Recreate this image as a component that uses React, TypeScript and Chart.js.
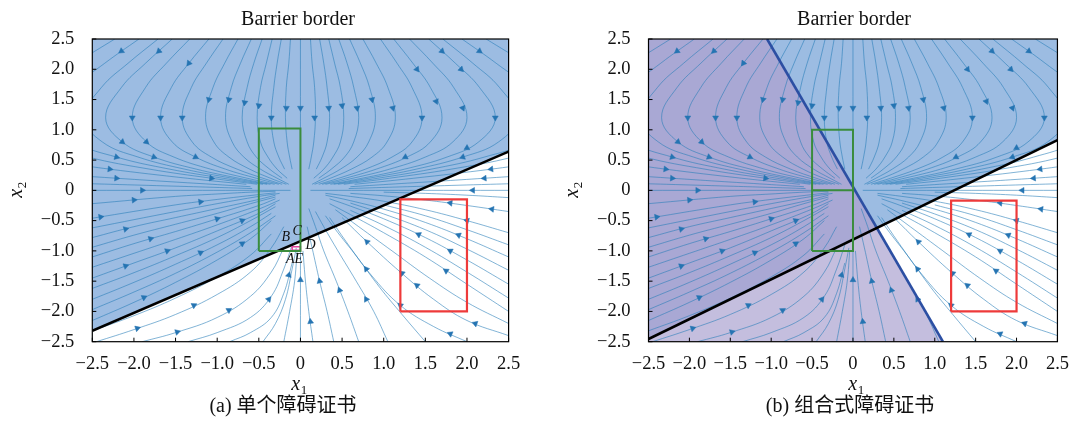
import React, { useEffect, useRef } from 'react';
import { Chart, registerables } from 'chart.js';

Chart.register(...registerables);

type Pt = [number, number];
type Arrow = [number, number, number, number]; // x, y, direction dx, dy

// ---------------- ticks & text ----------------
const TICK_VALUES = [-2.5, -2, -1.5, -1, -0.5, 0, 0.5, 1, 1.5, 2, 2.5];
const TICK_LABELS = ['−2.5', '−2.0', '−1.5', '−1.0', '−0.5', '0', '0.5', '1.0', '1.5', '2.0', '2.5'];
const TITLE_TEXT = 'Barrier border';
const CAPTION_A = '(a) 单个障碍证书';
const CAPTION_B = '(b) 组合式障碍证书';
const POINT_LABELS_A: [string, number, number][] = [
  ['B', -0.175, -0.78],
  ['C', -0.04, -0.68],
  ['D', 0.12, -0.9],
  ['AE', -0.07, -1.14],
];

// ---------------- regions & boundaries ----------------
const REGION_A: Pt[] = [[-2.5, -2.32], [2.5, 0.64], [2.5, 2.5], [-2.5, 2.5]];
const REGION_B_PURPLE: Pt[] = [[-2.5, -2.456], [0.292, -0.621], [-1.05, 2.5], [-2.5, 2.5]];
const REGION_B_BLUE: Pt[] = [[0.292, -0.621], [2.5, 0.83], [2.5, 2.5], [-1.05, 2.5]];
const REGION_B_LAVENDER: Pt[] = [[-2.5, -2.5], [1.1, -2.5], [0.292, -0.621], [-2.5, -2.456]];

const BARRIER_A: Pt[] = [[-2.5, -2.32], [2.5, 0.64]];
const BARRIER_B_BLACK: Pt[] = [[-2.5, -2.456], [2.5, 0.83]];
const BARRIER_B_BLUE: Pt[] = [[-1.05, 2.5], [1.1, -2.5]];
const INIT_BOX_A: Pt[] = [[-0.5, -1], [0, -1], [0, 1.02], [-0.5, 1.02], [-0.5, -1]];
const INIT_BOX_B: Pt[] = [[-0.5, -1], [0, -1], [0, 1], [-0.5, 1], [-0.5, -1]];
const INIT_MID_B: Pt[] = [[-0.5, 0], [0, 0]];
const UNSAFE_BOX_A: Pt[] = [[1.2, -2], [2, -2], [2, -0.15], [1.2, -0.15], [1.2, -2]];
const UNSAFE_BOX_B: Pt[] = [[1.2, -2], [2, -2], [2, -0.17], [1.2, -0.17], [1.2, -2]];
const SMALL_BOX_A: Pt[] = [[-0.1, -0.99], [0, -0.99], [0, -0.93], [-0.1, -0.93], [-0.1, -0.99]];

// ---------------- streamlines ----------------
const STREAMS_UPPER_LEFT: Pt[][] = [
  [[-1.54, 2.5], [-1.86, 2.1], [-2.15, 1.7], [-2.34, 1.2], [-2.14, 0.8], [-1.76, 0.55], [-1.25, 0.35], [-0.74, 0.2], [-0.36, 0.1]],
  [[-1.33, 2.5], [-1.61, 2.1], [-1.86, 1.7], [-2.02, 1.2], [-1.85, 0.8], [-1.52, 0.55], [-1.08, 0.35], [-0.64, 0.2], [-0.31, 0.1]],
  [[-1.1, 2.5], [-1.34, 2.1], [-1.55, 1.7], [-1.68, 1.2], [-1.54, 0.8], [-1.26, 0.55], [-0.9, 0.35], [-0.53, 0.2], [-0.26, 0.1]],
  [[-0.93, 2.5], [-1.13, 2.1], [-1.31, 1.7], [-1.42, 1.2], [-1.3, 0.8], [-1.07, 0.55], [-0.76, 0.35], [-0.45, 0.2], [-0.22, 0.1]],
  [[-0.75, 2.5], [-0.91, 2.1], [-1.05, 1.7], [-1.14, 1.2], [-1.04, 0.8], [-0.86, 0.55], [-0.61, 0.35], [-0.36, 0.2], [-0.17, 0.1]],
  [[-0.59, 2.5], [-0.72, 2.1], [-0.83, 1.7], [-0.9, 1.2], [-0.82, 0.8], [-0.68, 0.55], [-0.48, 0.35], [-0.28, 0.2], [-0.14, 0.1]],
  [[-0.46, 2.5], [-0.56, 2.1], [-0.64, 1.7], [-0.7, 1.2], [-0.64, 0.8], [-0.53, 0.55], [-0.37, 0.35], [-0.22, 0.2]],
  [[-0.34, 2.5], [-0.41, 2.1], [-0.48, 1.7], [-0.52, 1.2], [-0.48, 0.8], [-0.39, 0.55], [-0.28, 0.35], [-0.16, 0.2]],
  [[-0.23, 2.5], [-0.28, 2.1], [-0.32, 1.7], [-0.35, 1.2], [-0.32, 0.8], [-0.26, 0.55], [-0.19, 0.35]],
  [[-0.12, 2.5], [-0.14, 2.1], [-0.17, 1.7], [-0.18, 1.2], [-0.16, 0.8], [-0.13, 0.55], [-0.1, 0.35]],
  [[-1.71, 2.5], [-2.07, 2.1], [-2.39, 1.7], [-2.6, 1.2], [-2.38, 0.8], [-1.95, 0.55], [-1.39, 0.35], [-0.82, 0.2], [-0.4, 0.1]],
  [[-1.94, 2.5], [-2.35, 2.1], [-2.71, 1.7], [-2.95, 1.2], [-2.7, 0.8], [-2.21, 0.55], [-1.57, 0.35], [-0.93, 0.2], [-0.45, 0.1]],
  [[-2.23, 2.5], [-2.7, 2.1], [-3.13, 1.7], [-3.4, 1.2], [-3.11, 0.8], [-2.55, 0.55], [-1.81, 0.35], [-1.07, 0.2], [-0.52, 0.1]],
  [[-3.23, 0.55], [-2.8, 0.45], [-2.29, 0.35], [-1.36, 0.2], [-0.65, 0.1]],
  [[-3.73, 0.35], [-2.75, 0.25], [-2.21, 0.2], [-1.65, 0.15], [-1.06, 0.1], [-0.6, 0.06]],
  [[-3.53, 0.15], [-2.79, 0.12], [-2.28, 0.1], [-1.53, 0.07], [-1.04, 0.05], [-0.58, 0.03]],
];

const STREAMS_UPPER_RIGHT: Pt[][] = [
  [[0.12, 2.5], [0.14, 2.1], [0.17, 1.7], [0.18, 1.2], [0.16, 0.8], [0.13, 0.55], [0.1, 0.35]],
  [[0.23, 2.5], [0.28, 2.1], [0.32, 1.7], [0.35, 1.2], [0.32, 0.8], [0.26, 0.55], [0.19, 0.35]],
  [[0.34, 2.5], [0.41, 2.1], [0.48, 1.7], [0.52, 1.2], [0.48, 0.8], [0.39, 0.55], [0.28, 0.35], [0.16, 0.2]],
  [[0.46, 2.5], [0.56, 2.1], [0.64, 1.7], [0.7, 1.2], [0.64, 0.8], [0.53, 0.55], [0.37, 0.35], [0.22, 0.2]],
  [[0.59, 2.5], [0.72, 2.1], [0.83, 1.7], [0.9, 1.2], [0.82, 0.8], [0.68, 0.55], [0.48, 0.35], [0.28, 0.2], [0.14, 0.1]],
  [[0.75, 2.5], [0.91, 2.1], [1.05, 1.7], [1.14, 1.2], [1.04, 0.8], [0.86, 0.55], [0.61, 0.35], [0.36, 0.2], [0.17, 0.1]],
  [[0.96, 2.5], [1.16, 2.1], [1.34, 1.7], [1.46, 1.2], [1.34, 0.8], [1.1, 0.55], [0.78, 0.35], [0.46, 0.2], [0.22, 0.1]],
  [[1.12, 2.5], [1.35, 2.1], [1.56, 1.7], [1.7, 1.2], [1.56, 0.8], [1.28, 0.55], [0.91, 0.35], [0.54, 0.2], [0.26, 0.1]],
  [[1.31, 2.5], [1.59, 2.1], [1.84, 1.7], [2.0, 1.2], [1.83, 0.8], [1.5, 0.55], [1.07, 0.35], [0.63, 0.2], [0.3, 0.1]],
  [[1.54, 2.5], [1.86, 2.1], [2.15, 1.7], [2.34, 1.2], [2.14, 0.8], [1.76, 0.55], [1.25, 0.35], [0.74, 0.2], [0.36, 0.1]],
  [[1.71, 2.5], [2.07, 2.1], [2.39, 1.7], [2.6, 1.2], [2.38, 0.8], [1.95, 0.55], [1.39, 0.35], [0.82, 0.2], [0.4, 0.1]],
  [[1.94, 2.5], [2.35, 2.1], [2.71, 1.7], [2.95, 1.2], [2.7, 0.8], [2.21, 0.55], [1.57, 0.35], [0.93, 0.2], [0.45, 0.1]],
  [[2.23, 2.5], [2.7, 2.1], [3.13, 1.7], [3.4, 1.2], [3.11, 0.8], [2.55, 0.55], [1.81, 0.35], [1.07, 0.2], [0.52, 0.1]],
  [[3.23, 0.55], [2.8, 0.45], [2.29, 0.35], [1.36, 0.2], [0.65, 0.1]],
  [[3.73, 0.35], [2.75, 0.25], [2.21, 0.2], [1.65, 0.15], [1.06, 0.1], [0.6, 0.06]],
  [[3.53, 0.15], [2.79, 0.12], [2.28, 0.1], [1.53, 0.07], [1.04, 0.05], [0.58, 0.03]],
];

const STREAMS_LOWER_LEFT: Pt[][] = [
  [[-2.5, -0.22], [-1.5, -0.1], [-1.0, -0.06], [-0.6, -0.03], [-0.3, -0.015]],
  [[-2.5, -0.46], [-1.5, -0.24], [-1.0, -0.15], [-0.5, -0.07], [-0.3, -0.04]],
  [[-2.5, -0.62], [-1.5, -0.35], [-1.0, -0.22], [-0.5, -0.1], [-0.25, -0.05]],
  [[-2.5, -0.78], [-2.0, -0.6], [-1.5, -0.45], [-1.0, -0.3], [-0.5, -0.15], [-0.3, -0.08]],
  [[-2.5, -0.94], [-2.0, -0.74], [-1.5, -0.56], [-1.0, -0.38], [-0.6, -0.22], [-0.3, -0.11]],
  [[-2.5, -1.1], [-2.0, -0.88], [-1.5, -0.68], [-1.0, -0.47], [-0.5, -0.25], [-0.3, -0.14]],
  [[-2.5, -1.27], [-2.0, -1.04], [-1.5, -0.81], [-1.0, -0.57], [-0.5, -0.31], [-0.25, -0.16]],
  [[-2.5, -1.45], [-2.0, -1.2], [-1.5, -0.95], [-1.0, -0.67], [-0.5, -0.38], [-0.3, -0.22]],
  [[-2.5, -1.62], [-2.0, -1.36], [-1.5, -1.08], [-1.0, -0.78], [-0.6, -0.5], [-0.3, -0.27]],
  [[-2.5, -1.8], [-2.0, -1.52], [-1.5, -1.22], [-1.0, -0.9], [-0.6, -0.6], [-0.35, -0.38]],
  [[-2.5, -1.97], [-2.0, -1.68], [-1.5, -1.37], [-1.0, -1.02], [-0.6, -0.7], [-0.3, -0.42]],
  [[-2.5, -2.15], [-2.0, -1.85], [-1.5, -1.52], [-1.0, -1.15], [-0.6, -0.8], [-0.35, -0.5]],
  [[-2.5, -2.32], [-2.0, -2.07], [-1.5, -1.78], [-1.0, -1.43], [-0.6, -1.07], [-0.35, -0.72]],
  [[-2.45, -2.5], [-2.0, -2.3], [-1.5, -2.05], [-1.0, -1.72], [-0.6, -1.35], [-0.35, -0.95], [-0.2, -0.6]],
  [[-1.9, -2.5], [-1.5, -2.35], [-1.0, -2.1], [-0.6, -1.75], [-0.35, -1.35], [-0.2, -0.95]],
  [[-1.35, -2.5], [-1.0, -2.35], [-0.6, -2.1], [-0.35, -1.75], [-0.2, -1.3], [-0.1, -0.9]],
  [[-0.85, -2.5], [-0.6, -2.35], [-0.35, -2.1], [-0.2, -1.7], [-0.1, -1.2]],
  [[-0.45, -2.5], [-0.3, -2.2], [-0.18, -1.8], [-0.1, -1.3], [-0.05, -0.95]],
  [[-0.2, -2.5], [-0.13, -2.0], [-0.07, -1.5], [-0.04, -1.0]],
];

const STREAMS_LOWER_RIGHT: Pt[][] = [
  [[0.15, -2.5], [0.1, -2.0], [0.06, -1.5], [0.03, -1.0]],
  [[0.4, -2.5], [0.32, -2.0], [0.23, -1.5], [0.14, -0.95], [0.08, -0.6]],
  [[0.7, -2.5], [0.57, -2.0], [0.43, -1.5], [0.28, -1.0], [0.18, -0.6], [0.1, -0.3]],
  [[1.05, -2.5], [0.88, -2.0], [0.67, -1.5], [0.45, -1.0], [0.28, -0.6], [0.18, -0.35]],
  [[1.5, -2.5], [1.22, -2.05], [0.95, -1.6], [0.68, -1.1], [0.45, -0.7], [0.3, -0.42]],
  [[2.0, -2.5], [1.6, -2.25], [1.2, -1.9], [0.85, -1.4], [0.55, -0.85], [0.35, -0.45]],
  [[2.5, -2.4], [2.0, -2.15], [1.6, -1.8], [1.2, -1.35], [0.8, -0.85], [0.5, -0.45]],
  [[2.5, -2.2], [2.0, -1.85], [1.55, -1.45], [1.1, -1.0], [0.7, -0.6], [0.42, -0.32]],
  [[2.5, -2.0], [2.0, -1.55], [1.5, -1.1], [1.0, -0.7], [0.6, -0.4], [0.35, -0.22]],
  [[2.5, -1.78], [2.0, -1.35], [1.5, -0.94], [1.0, -0.58], [0.6, -0.33]],
  [[2.5, -1.55], [2.0, -1.15], [1.5, -0.78], [1.0, -0.47], [0.6, -0.26], [0.35, -0.14]],
  [[2.5, -1.32], [2.0, -0.97], [1.5, -0.65], [1.0, -0.39], [0.6, -0.21]],
  [[2.5, -1.1], [2.0, -0.8], [1.5, -0.53], [1.0, -0.31], [0.6, -0.17], [0.3, -0.08]],
  [[2.5, -0.9], [2.0, -0.65], [1.5, -0.42], [1.0, -0.24]],
  [[2.5, -0.7], [2.0, -0.5], [1.5, -0.32], [1.0, -0.18], [0.6, -0.1], [0.3, -0.05]],
  [[2.5, -0.35], [2.0, -0.25], [1.5, -0.16], [1.0, -0.09], [0.6, -0.05]],
  [[2.5, -0.12], [2.0, -0.08], [1.5, -0.05], [1.0, -0.03]],
];

const STREAMS_AXES: Pt[][] = [
  [[-2.5, 0], [-0.12, 0]],
  [[2.5, 0], [0.12, 0]],
  [[0, 2.5], [0, 0.04]],
  [[0, -2.5], [0, -0.9]],
];

const ARROWS_UPPER: Arrow[] = [
  [-2.02, 1.2, 0, -1], [-1.68, 1.2, 0, -1], [-1.42, 1.2, 0, -1], [-1.1, 1.5, -0.18, -1],
  [-0.86, 1.5, -0.14, -1], [-0.67, 1.45, -0.12, -1], [-0.5, 1.4, -0.08, -1], [-0.35, 1.2, 0, -1],
  [-0.17, 1.36, -0.02, -1], [0, 1.36, 0, -1], [-1.7, 2.3, -0.8, -1], [-2.15, 2.3, -1, -1],
  [-1.34, 2.1, -0.55, -1], [-2.14, 0.8, 0.9, -1], [-1.85, 0.8, 0.8, -1], [-1.76, 0.55, 1, -0.5],
  [-1.26, 0.55, 1, -0.7], [-2.21, 0.55, 1, -0.4], [-2.29, 0.35, 1, -0.17], [-2.21, 0.2, 1, -0.09],
  [-1.07, 0.2, 1, -0.19], [-1.9, 0, 1, 0],
  [0.17, 1.2, 0, -1], [0.34, 1.36, 0.05, -1], [0.5, 1.4, 0.08, -1], [0.68, 1.36, 0.1, -1],
  [0.86, 1.5, 0.14, -1], [1.11, 1.36, 0.18, -1], [1.46, 1.2, 0, -1], [1.95, 1.36, 0.3, -1],
  [2.34, 1.2, 0, -1], [1.7, 2.3, 0.8, -1], [1.4, 2.0, 0.55, -1], [1.93, 2.0, 0.75, -1],
  [2.15, 2.3, 1, -1], [1.63, 1.47, 0.3, -1], [2.0, 0.7, -1, -0.75], [1.95, 0.55, -1, -0.5],
  [1.26, 0.55, -1, -0.7], [2.29, 0.35, -1, -0.17], [2.21, 0.2, -1, -0.09], [2.07, 0, -1, 0],
];

const ARROWS_LOWER: Arrow[] = [
  [-2.0, -0.16, 1, 0.12], [-2.4, -0.44, 1, 0.22], [-1.2, -0.19, 1, 0.18], [-2.1, -0.64, 1, 0.33],
  [-1.8, -0.8, 1, 0.42], [-1.0, -0.47, 1, 0.44], [-2.1, -1.25, 1, 0.5], [-1.6, -1.0, 1, 0.52],
  [-0.7, -0.5, 1, 0.6], [-1.2, -1.03, 1, 0.65], [-1.88, -1.77, 1, 0.66], [-0.7, -0.88, 1, 0.9],
  [-1.96, -2.28, 1, 0.45], [-1.28, -1.9, 1, 0.7], [-1.48, -2.34, 1, 0.4], [-0.86, -1.98, 1, 0.85],
  [-0.38, -1.8, 0.6, 1], [-0.14, -1.4, 0.2, 1], [0, -1.48, 0, 1], [0.12, -2.17, -0.09, 1],
  [0.23, -1.5, -0.17, 1], [0.47, -1.65, -0.28, 1], [0.79, -1.8, -0.42, 1], [0.79, -1.3, -0.55, 1],
  [0.8, -0.85, -0.75, 1], [1.42, -0.73, -1, 0.65], [1.75, -1.33, -1, 0.9], [1.8, -1.0, -1, 0.75],
  [1.9, -0.74, -1, 0.56], [2.0, -0.5, -1, 0.4], [1.8, -0.21, -1, 0.18], [2.3, -0.31, -1, 0.2],
  [1.4, -1.57, -1, 1.1], [1.2, -1.9, -1, 1.1], [1.22, -1.37, -1, 1.15], [2.1, -2.2, -1, 0.5],
  [1.8, -2.37, -1, 0.6],
];

// ---------------- styling ----------------
const SERIF = '"Liberation Serif", "Times New Roman", "Noto Sans CJK SC", serif';
const FILL_BLUE = '#9CBCE2';
const FILL_PURPLE = '#A9A8D4';
const FILL_LAVENDER = '#C4BEDE';
const STREAM_COLOR = 'rgba(40,125,185,0.58)';
const ARROW_COLOR = '#2574b2';
const GREEN = '#3A8C3C';
const RED = '#EE3A3A';
const PINK = '#E0409A';
const DARK_BLUE = '#2C4FA3';

const ALL_STREAMS: Pt[][] = [
  ...STREAMS_UPPER_LEFT, ...STREAMS_UPPER_RIGHT, ...STREAMS_LOWER_LEFT, ...STREAMS_LOWER_RIGHT, ...STREAMS_AXES,
];
const ALL_ARROWS: Arrow[] = [...ARROWS_UPPER, ...ARROWS_LOWER];

interface PanelSpec {
  key: string;
  regions: { poly: Pt[]; color: string }[];
  lines: { pts: Pt[]; color: string; width: number }[];
  yAxisWidth: number;
  padRight: number;
  titleX: number;
  captionX: number;
  caption: string;
  yLabelX: number;
  xLabelX: number;
  pointLabels: [string, number, number][];
}

const PANEL_A: PanelSpec = {
  key: 'a',
  regions: [{ poly: REGION_A, color: FILL_BLUE }],
  lines: [
    { pts: INIT_BOX_A, color: GREEN, width: 2 },
    { pts: UNSAFE_BOX_A, color: RED, width: 2.2 },
    { pts: SMALL_BOX_A, color: PINK, width: 1.5 },
    { pts: BARRIER_A, color: '#000', width: 2.6 },
  ],
  yAxisWidth: 92.3,
  padRight: 31.4,
  titleX: 298,
  captionX: 283,
  caption: CAPTION_A,
  yLabelX: 16.5,
  xLabelX: 299,
  pointLabels: POINT_LABELS_A,
};

const PANEL_B: PanelSpec = {
  key: 'b',
  regions: [
    { poly: REGION_B_PURPLE, color: FILL_PURPLE },
    { poly: REGION_B_BLUE, color: FILL_BLUE },
    { poly: REGION_B_LAVENDER, color: FILL_LAVENDER },
  ],
  lines: [
    { pts: INIT_BOX_B, color: GREEN, width: 2 },
    { pts: INIT_MID_B, color: GREEN, width: 2 },
    { pts: UNSAFE_BOX_B, color: RED, width: 2.2 },
    { pts: BARRIER_B_BLACK, color: '#000', width: 2.6 },
    { pts: BARRIER_B_BLUE, color: DARK_BLUE, width: 2.6 },
  ],
  yAxisWidth: 108.5,
  padRight: 16,
  titleX: 314,
  captionX: 310,
  caption: CAPTION_B,
  yLabelX: 32.5,
  xLabelX: 316,
  pointLabels: [],
};

const toXY = (pts: Pt[]) => pts.map(([x, y]) => ({ x, y }));

function arrowRotation(ctx: any) {
  const raw = ctx.raw;
  if (!raw || raw.dx === undefined) return 0;
  const xs = ctx.chart.scales.x;
  const ys = ctx.chart.scales.y;
  const kx = xs.getPixelForValue(1) - xs.getPixelForValue(0);
  const ky = ys.getPixelForValue(0) - ys.getPixelForValue(1);
  const sx = raw.dx * kx;
  const sy = -raw.dy * ky;
  return (Math.atan2(sx, -sy) * 180) / Math.PI;
}

function drawSubLabel(ctx: CanvasRenderingContext2D, main: string, sub: string, cx: number, baseline: number) {
  ctx.font = `italic 20px ${SERIF}`;
  const wm = ctx.measureText(main).width;
  ctx.font = `13px ${SERIF}`;
  const ws = ctx.measureText(sub).width;
  const start = cx - (wm + ws) / 2;
  ctx.textAlign = 'left';
  ctx.textBaseline = 'alphabetic';
  ctx.font = `italic 20px ${SERIF}`;
  ctx.fillText(main, start, baseline);
  ctx.font = `13px ${SERIF}`;
  ctx.fillText(sub, start + wm + 0.5, baseline + 4);
}

function decorPlugin(spec: PanelSpec) {
  return {
    id: 'decor_' + spec.key,
    afterDatasetsDraw(chart: any) {
      const { ctx, chartArea: a, scales } = chart;
      ctx.save();
      ctx.strokeStyle = '#000';
      ctx.lineWidth = 1.2;
      ctx.strokeRect(a.left, a.top, a.right - a.left, a.bottom - a.top);
      ctx.beginPath();
      TICK_VALUES.forEach((v) => {
        const px = scales.x.getPixelForValue(v);
        ctx.moveTo(px, a.bottom);
        ctx.lineTo(px, a.bottom - 4);
        const py = scales.y.getPixelForValue(v);
        ctx.moveTo(a.left, py);
        ctx.lineTo(a.left + 4, py);
      });
      ctx.lineWidth = 1;
      ctx.stroke();
      ctx.fillStyle = '#111';
      ctx.font = `italic 14px ${SERIF}`;
      ctx.textAlign = 'center';
      ctx.textBaseline = 'middle';
      spec.pointLabels.forEach(([t, x, y]) => {
        ctx.fillText(t, scales.x.getPixelForValue(x), scales.y.getPixelForValue(y));
      });
      ctx.restore();
    },
    afterDraw(chart: any) {
      const { ctx } = chart;
      ctx.save();
      ctx.fillStyle = '#111';
      ctx.font = `20px ${SERIF}`;
      ctx.textAlign = 'center';
      ctx.textBaseline = 'alphabetic';
      ctx.fillText(TITLE_TEXT, spec.titleX, 24.5);
      ctx.fillText(spec.caption, spec.captionX, 412);
      drawSubLabel(ctx, 'x', '1', spec.xLabelX, 390);
      ctx.translate(spec.yLabelX, 190);
      ctx.rotate(-Math.PI / 2);
      drawSubLabel(ctx, 'x', '2', 0, 5);
      ctx.restore();
    },
  };
}

function makeConfig(spec: PanelSpec): any {
  const datasets: any[] = [];
  spec.regions.forEach((r) =>
    datasets.push({
      data: toXY(r.poly),
      fill: 'shape',
      backgroundColor: r.color,
      borderColor: 'rgba(0,0,0,0)',
      borderWidth: 0,
      pointRadius: 0,
      tension: 0,
      order: 100,
    })
  );
  ALL_STREAMS.forEach((s) =>
    datasets.push({
      data: toXY(s),
      fill: false,
      borderColor: STREAM_COLOR,
      borderWidth: 1,
      pointRadius: 0,
      tension: 0.4,
      order: 50,
    })
  );
  datasets.push({
    data: ALL_ARROWS.map(([x, y, dx, dy]) => ({ x, y, dx, dy })),
    showLine: false,
    fill: false,
    pointStyle: 'triangle',
    pointRadius: 3.4,
    pointBackgroundColor: ARROW_COLOR,
    pointBorderColor: ARROW_COLOR,
    pointBorderWidth: 0.5,
    pointRotation: arrowRotation,
    order: 40,
  });
  spec.lines.forEach((l) =>
    datasets.push({
      data: toXY(l.pts),
      fill: false,
      borderColor: l.color,
      borderWidth: l.width,
      pointRadius: 0,
      tension: 0,
      order: 10,
    })
  );

  const tickFont = { family: SERIF, size: 18.5 };
  return {
    type: 'line',
    data: { datasets },
    options: {
      animation: false,
      responsive: false,
      maintainAspectRatio: false,
      events: [],
      layout: { padding: { left: 0, right: spec.padRight, top: 39, bottom: 0 } },
      elements: { line: { capBezierPoints: false } },
      plugins: { legend: { display: false }, tooltip: { enabled: false }, title: { display: false } },
      scales: {
        x: {
          type: 'linear',
          min: -2.5,
          max: 2.5,
          afterBuildTicks: (s: any) => {
            s.ticks = TICK_VALUES.map((v) => ({ value: v }));
          },
          ticks: {
            callback: (_v: any, i: number) => TICK_LABELS[i],
            font: tickFont,
            color: '#111',
            padding: 11,
            maxRotation: 0,
            autoSkip: false,
          },
          grid: { display: false, drawTicks: false },
          border: { display: false },
          afterFit: (s: any) => {
            s.height = 80.3;
          },
        },
        y: {
          type: 'linear',
          min: -2.5,
          max: 2.5,
          afterBuildTicks: (s: any) => {
            s.ticks = TICK_VALUES.map((v) => ({ value: v }));
          },
          ticks: {
            callback: (_v: any, i: number) => TICK_LABELS[i],
            font: tickFont,
            color: '#111',
            padding: 18,
            autoSkip: false,
          },
          grid: { display: false, drawTicks: false },
          border: { display: false },
          afterFit: (s: any) => {
            s.width = spec.yAxisWidth;
          },
        },
      },
    },
    plugins: [decorPlugin(spec)],
  };
}

function Panel({ spec, left }: { spec: PanelSpec; left: number }) {
  const ref = useRef<HTMLCanvasElement>(null);
  useEffect(() => {
    if (!ref.current) return;
    const chart = new Chart(ref.current, makeConfig(spec));
    return () => chart.destroy();
  }, [spec]);
  return (
    <canvas
      ref={ref}
      width={540}
      height={422}
      style={{ position: 'absolute', left, top: 0, width: 540, height: 422 }}
    />
  );
}

export default function App() {
  useEffect(() => {
    document.body.style.margin = '0';
  }, []);
  return (
    <div style={{ position: 'fixed', left: 0, top: 0, width: 1080, height: 422, background: '#fff', overflow: 'hidden' }}>
      <Panel spec={PANEL_A} left={0} />
      <Panel spec={PANEL_B} left={540} />
    </div>
  );
}
